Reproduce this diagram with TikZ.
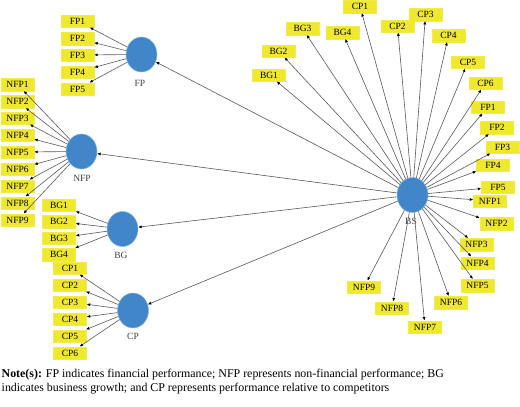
\documentclass[tikz,border=0pt]{standalone}
\usepackage{fontspec}
\setmainfont{Liberation Serif}
\usepackage{tikz}
\usetikzlibrary{arrows.meta,shapes.geometric,positioning}
\usepackage{xcolor}
\definecolor{boxyellow}{RGB}{240,232,44}
\definecolor{circblue}{RGB}{66,134,202}
\definecolor{circedge}{RGB}{130,185,235}

\begin{document}
\begin{tikzpicture}[x=1pt,y=-1pt,
		item/.style={draw=boxyellow!85!white, fill=boxyellow, minimum width=33pt, minimum height=12.5pt, inner sep=0pt, font=\fontsize{9.5}{10}\selectfont},
		latent/.style={ellipse, draw=circedge, fill=circblue, line width=0.5pt, minimum width=31pt, minimum height=35pt, inner sep=0pt},
		lab/.style={font=\fontsize{9.5}{10}\selectfont, text=black!75},
		arr/.style={draw=black!65, line width=0.6pt, -{Latex[length=3.5pt,width=3pt,color=black]}}]
		\useasboundingbox (0,0) rectangle (520,407);
		% left side: the four outcome constructs
		\node[latent] (FP) at (141.5,54.5) {};
		\node[lab] (FPlab) at (140,83) {FP};
		\node[item] (lFP1) at (77.5,21) {FP1};
		\node[item] (lFP2) at (77.5,38.5) {FP2};
		\node[item] (lFP3) at (77.5,55) {FP3};
		\node[item] (lFP4) at (77.5,72) {FP4};
		\node[item] (lFP5) at (77.5,89) {FP5};
		\node[latent] (NFP) at (81.5,151.5) {};
		\node[lab] (NFPlab) at (82,178) {NFP};
		\node[item] (lNFP1) at (17.5,84.5) {NFP1};
		\node[item] (lNFP2) at (17.5,101.5) {NFP2};
		\node[item] (lNFP3) at (17.5,118) {NFP3};
		\node[item] (lNFP4) at (17.5,135) {NFP4};
		\node[item] (lNFP5) at (17.5,152) {NFP5};
		\node[item] (lNFP6) at (17.5,169) {NFP6};
		\node[item] (lNFP7) at (17.5,186) {NFP7};
		\node[item] (lNFP8) at (17.5,203) {NFP8};
		\node[item] (lNFP9) at (17.5,220) {NFP9};
		\node[latent] (BG) at (122.5,229) {};
		\node[lab] (BGlab) at (121,255) {BG};
		\node[item] (lBG1) at (59,205) {BG1};
		\node[item] (lBG2) at (59,221.5) {BG2};
		\node[item] (lBG3) at (59,238) {BG3};
		\node[item] (lBG4) at (59,254.5) {BG4};
		\node[latent] (CP) at (133,310.5) {};
		\node[lab] (CPlab) at (133,336) {CP};
		\node[item] (lCP1) at (70,268) {CP1};
		\node[item] (lCP2) at (70,285) {CP2};
		\node[item] (lCP3) at (70,302) {CP3};
		\node[item] (lCP4) at (70,319) {CP4};
		\node[item] (lCP5) at (70,336) {CP5};
		\node[item] (lCP6) at (70,353) {CP6};
		% right side: BS and its indicators
		\node[latent] (BS) at (412.5,195) {};
		\node[lab] (BSlab) at (411,221) {BS};
		\node[item] (rBG1) at (269,75) {BG1};
		\node[item] (rBG2) at (278.5,51) {BG2};
		\node[item] (rBG3) at (302.5,28.5) {BG3};
		\node[item] (rBG4) at (342.5,32.5) {BG4};
		\node[item] (rCP1) at (360,6.5) {CP1};
		\node[item] (rCP2) at (397.5,26) {CP2};
		\node[item] (rCP3) at (425.5,14.5) {CP3};
		\node[item] (rCP4) at (448.5,35.5) {CP4};
		\node[item] (rCP5) at (468,62) {CP5};
		\node[item] (rCP6) at (485.5,83) {CP6};
		\node[item] (rFP1) at (488,107) {FP1};
		\node[item] (rFP2) at (497,127.5) {FP2};
		\node[item] (rFP3) at (502.5,147) {FP3};
		\node[item] (rFP4) at (493,165) {FP4};
		\node[item] (rFP5) at (498,187) {FP5};
		\node[item] (rNFP1) at (490,201) {NFP1};
		\node[item] (rNFP2) at (496.5,223.5) {NFP2};
		\node[item] (rNFP3) at (476.5,244.5) {NFP3};
		\node[item] (rNFP4) at (477.5,263) {NFP4};
		\node[item] (rNFP5) at (477.5,285.5) {NFP5};
		\node[item] (rNFP6) at (451,302.5) {NFP6};
		\node[item] (rNFP7) at (425,327) {NFP7};
		\node[item] (rNFP8) at (392,308) {NFP8};
		\node[item] (rNFP9) at (364,287) {NFP9};
		% connectors
		\foreach \i in {1,...,5} \draw[arr] (FP) -- (lFP\i);
		\foreach \i in {1,...,9} \draw[arr] (NFP) -- (lNFP\i);
		\foreach \i in {1,...,4} \draw[arr] (BG) -- (lBG\i);
		\foreach \i in {1,...,6} \draw[arr] (CP) -- (lCP\i);
		\foreach \n in {FP,NFP,BG,CP} \draw[arr] (BS) -- (\n);
		\foreach \n in {rBG1,rBG2,rBG3,rBG4,rCP1,rCP2,rCP3,rCP4,rCP5,rCP6,rFP1,rFP2,rFP3,rFP4,rFP5,rNFP1,rNFP2,rNFP3,rNFP4,rNFP5,rNFP6,rNFP7,rNFP8,rNFP9}
			\draw[arr] (BS) -- (\n);
		% note below the figure
		\node[anchor=north west, align=left, inner sep=0pt, font=\fontsize{11.9}{14.5}\selectfont] (note) at (1.5,368.5)
			{\textbf{Note(s):} FP indicates financial performance; NFP represents non-financial performance; BG\\
			indicates business growth; and CP represents performance relative to competitors};
	\end{tikzpicture}
\end{document}
